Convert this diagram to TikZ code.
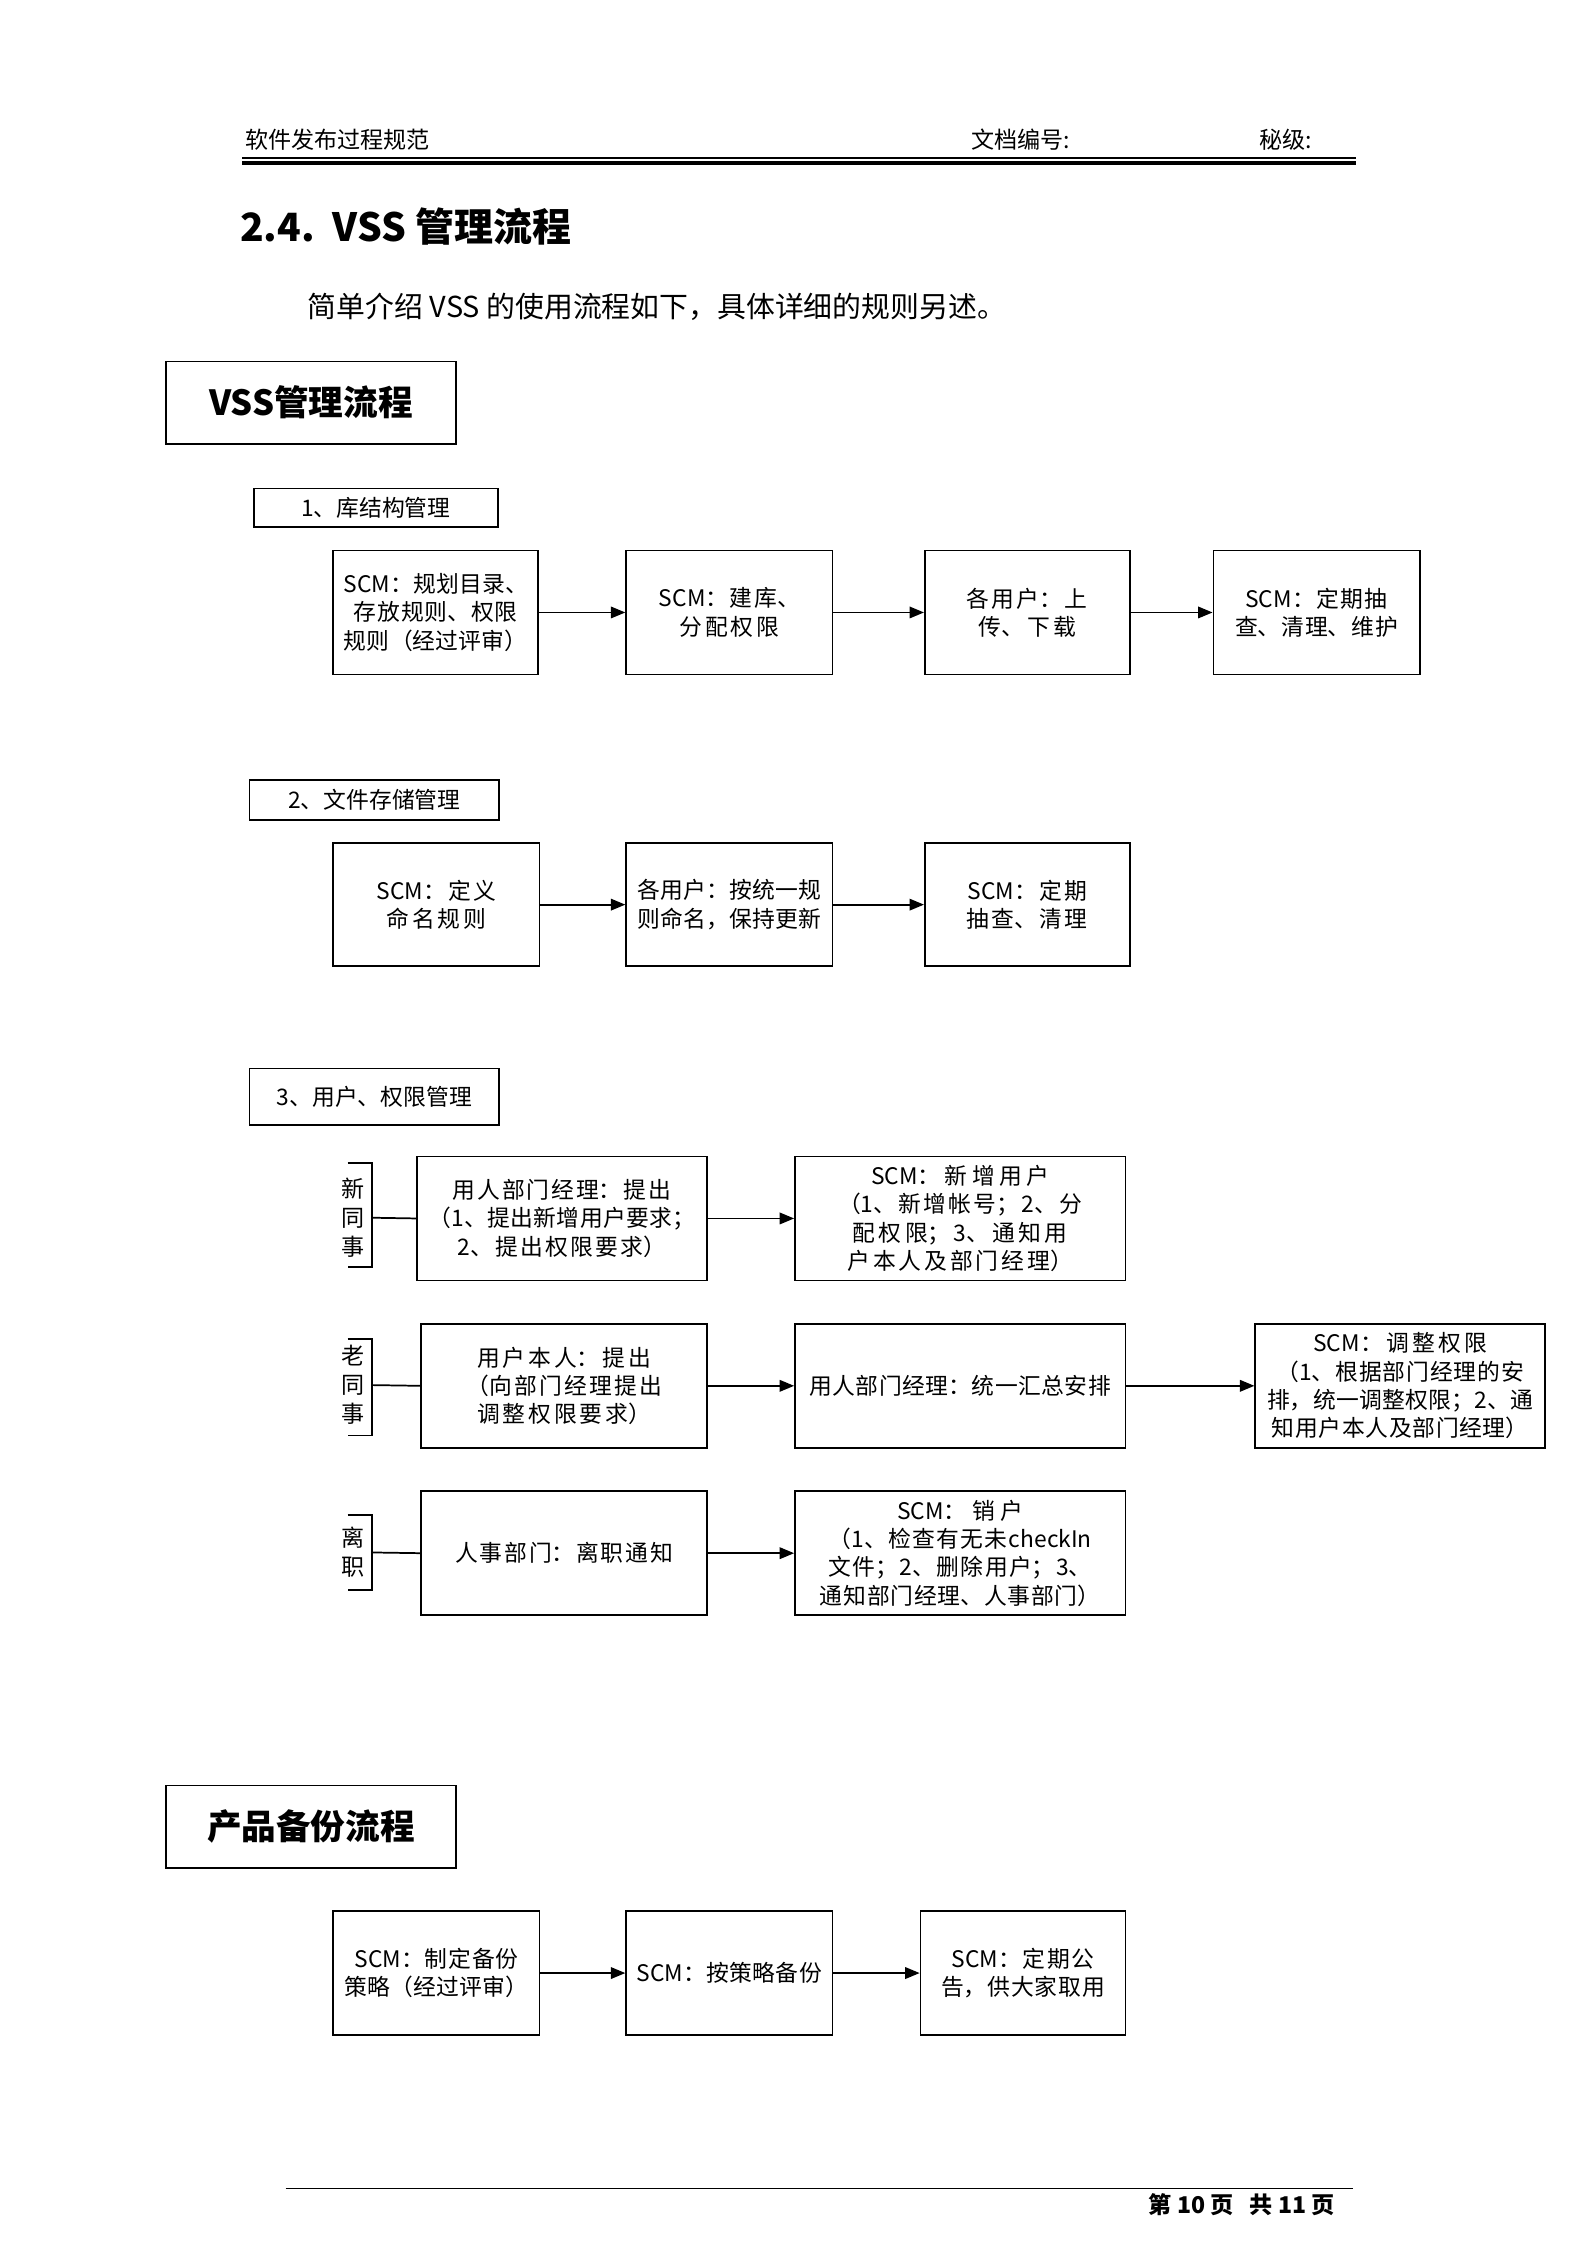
\documentclass[tikz,border=0pt]{standalone}
\usepackage{fontspec}
\setmainfont{Liberation Serif}
\newfontfamily\cjk{Noto Sans CJK SC}
\XeTeXlinebreaklocale "zh"
\XeTeXlinebreakskip=0pt plus 1pt
\usetikzlibrary{arrows.meta}
\begin{document}
\begin{tikzpicture}[x=0.5pt,y=-0.5pt,
  bx/.style={draw,align=center,inner sep=1pt,font=\cjk\fontsize{7.9}{9.8}\selectfont,line width=0.6pt},
  arr/.style={-{Triangle[length=5pt,width=4pt]},line width=0.6pt},
  br/.style={line width=0.6pt}]
\useasboundingbox (0,0) rectangle (1100,1556);
\fill[white] (0,0) rectangle (1100,1556);
% header
\node[anchor=west,font=\cjk\fontsize{8}{9}\selectfont] (h1) at (163,97) {软件发布过程规范};
\node[anchor=west,font=\cjk\fontsize{8}{9}\selectfont] (h2) at (666,97) {文档编号:};
\node[anchor=west,font=\cjk\fontsize{8}{9}\selectfont] (h3) at (866,97) {秘级:};
\draw[line width=0.4pt] (168,109.5) -- (940,109.5);
\draw[line width=1.4pt] (168,113) -- (940,113);
\node[anchor=west,font=\cjk\bfseries\fontsize{13.5}{15}\selectfont,inner sep=0] (t) at (166,157) {2.4.\ \ VSS 管理流程};
\node[anchor=west,font=\cjk\fontsize{10}{12}\selectfont,inner sep=0] (s) at (213,213) {简单介绍 VSS 的使用流程如下，具体详细的规则另述。};
% section 1
\node[draw,minimum width=100.5pt,minimum height=28.5pt,font=\cjk\bfseries\fontsize{12}{14}\selectfont,line width=0.6pt] (v) at (215.5,279) {VSS管理流程};
\node[bx,minimum width=84.5pt,minimum height=13.5pt] (l1) at (260.5,352) {1、库结构管理};
\node[bx,minimum width=71pt,minimum height=43pt,text width=66pt] (a1) at (302,424.5) {SCM：规划目录、存放规则、权限规则（经过评审）};
\node[bx,minimum width=71.5pt,minimum height=43pt,text width=66pt] (a2) at (505.5,424.5) {SCM：建库、分配权限};
\node[bx,minimum width=71pt,minimum height=43pt,text width=66pt] (a3) at (712,424.5) {各用户：上传、下载};
\node[bx,minimum width=71.5pt,minimum height=43pt,text width=66pt] (a4) at (912.5,424.5) {SCM：定期抽查、清理、维护};
\draw[arr] (a1) -- (a2); \draw[arr] (a2) -- (a3); \draw[arr] (a3) -- (a4);
% section 2
\node[bx,minimum width=86.5pt,minimum height=14pt] (l2) at (259.5,554.5) {2、文件存储管理};
\node[bx,minimum width=71.5pt,minimum height=42.5pt,text width=66pt] (b1) at (302.5,627) {SCM：定义命名规则};
\node[bx,minimum width=71.5pt,minimum height=42.5pt,text width=68pt] (b2) at (505.5,627) {各用户：按统一规则命名，保持更新};
\node[bx,minimum width=71pt,minimum height=42.5pt,text width=66pt] (b3) at (712,627) {SCM：定期抽查、清理};
\draw[arr] (b1) -- (b2); \draw[arr] (b2) -- (b3);
% section 3
\node[bx,minimum width=86.5pt,minimum height=19.5pt] (l3) at (259.5,760) {3、用户、权限管理};
\node[bx,minimum width=100.5pt,minimum height=43pt,text width=96pt] (c1) at (389.5,844.5) {用人部门经理：提出\\（1、提出新增用户要求；\\2、提出权限要求）};
\node[bx,minimum width=114.5pt,minimum height=43pt,text width=110pt] (c2) at (665.5,844.5) {SCM：新增用户\\（1、新增帐号；2、分配权限；3、通知用户本人及部门经理）};
\draw[arr] (c1) -- (c2);
\node[bx,minimum width=99pt,minimum height=43pt,text width=92pt] (d1) at (391,960.5) {用户本人：提出\\（向部门经理提出调整权限要求）};
\node[bx,minimum width=114.5pt,minimum height=43pt,text width=110pt] (d2) at (665.5,960.5) {用人部门经理：统一汇总安排};
\node[bx,minimum width=100.5pt,minimum height=43pt,text width=96pt] (d3) at (970.5,960.5) {SCM：调整权限\\（1、根据部门经理的安排，统一调整权限；2、通知用户本人及部门经理）};
\draw[arr] (d1) -- (d2); \draw[arr] (d2) -- (d3);
\node[bx,minimum width=99pt,minimum height=43pt,text width=95pt] (e1) at (391,1076.5) {人事部门：离职通知};
\node[bx,minimum width=114.5pt,minimum height=43pt,text width=106pt] (e2) at (665.5,1076.5) {SCM：销户\\（1、检查有无未checkIn文件；2、删除用户；3、通知部门经理、人事部门）};
\draw[arr] (e1) -- (e2);
% brackets
\node[font=\cjk\fontsize{8}{10}\selectfont,align=center,inner sep=0] (n1) at (245,844) {新\\同\\事};
\node[font=\cjk\fontsize{8}{10}\selectfont,align=center,inner sep=0] (n2) at (245,960) {老\\同\\事};
\node[font=\cjk\fontsize{8}{10}\selectfont,align=center,inner sep=0] (n3) at (245,1076) {离\\职};
\coordinate (k1) at (258,844); \coordinate (k2) at (258,960); \coordinate (k3) at (258,1076);
\draw[br] (241,806) -- (258,806) -- (258,878) -- (241,878);
\draw[br] (k1) -- (c1.west);
\draw[br] (241,928) -- (258,928) -- (258,995) -- (241,995);
\draw[br] (k2) -- (d1.west);
\draw[br] (241,1050) -- (258,1050) -- (258,1102) -- (241,1102);
\draw[br] (k3) -- (e1.west);
% backup
\node[draw,minimum width=100.5pt,minimum height=28.5pt,font=\cjk\bfseries\fontsize{12}{14}\selectfont,line width=0.6pt] (p) at (215.5,1266) {产品备份流程};
\node[bx,minimum width=71.5pt,minimum height=43pt,text width=66pt] (f1) at (302.5,1367.5) {SCM：制定备份策略（经过评审）};
\node[bx,minimum width=71.5pt,minimum height=43pt,text width=68pt] (f2) at (505.5,1367.5) {SCM：按策略备份};
\node[bx,minimum width=71pt,minimum height=43pt,text width=66pt] (f3) at (709,1367.5) {SCM：定期公告，供大家取用};
\draw[arr] (f1) -- (f2); \draw[arr] (f2) -- (f3);
% footer
\draw[line width=0.4pt] (198,1517) -- (938,1517);
\node[anchor=east,font=\cjk\bfseries\fontsize{8}{9}\selectfont] (ft) at (932,1528) {第 10 页\ \ \ 共 11 页};
\end{tikzpicture}
\end{document}
